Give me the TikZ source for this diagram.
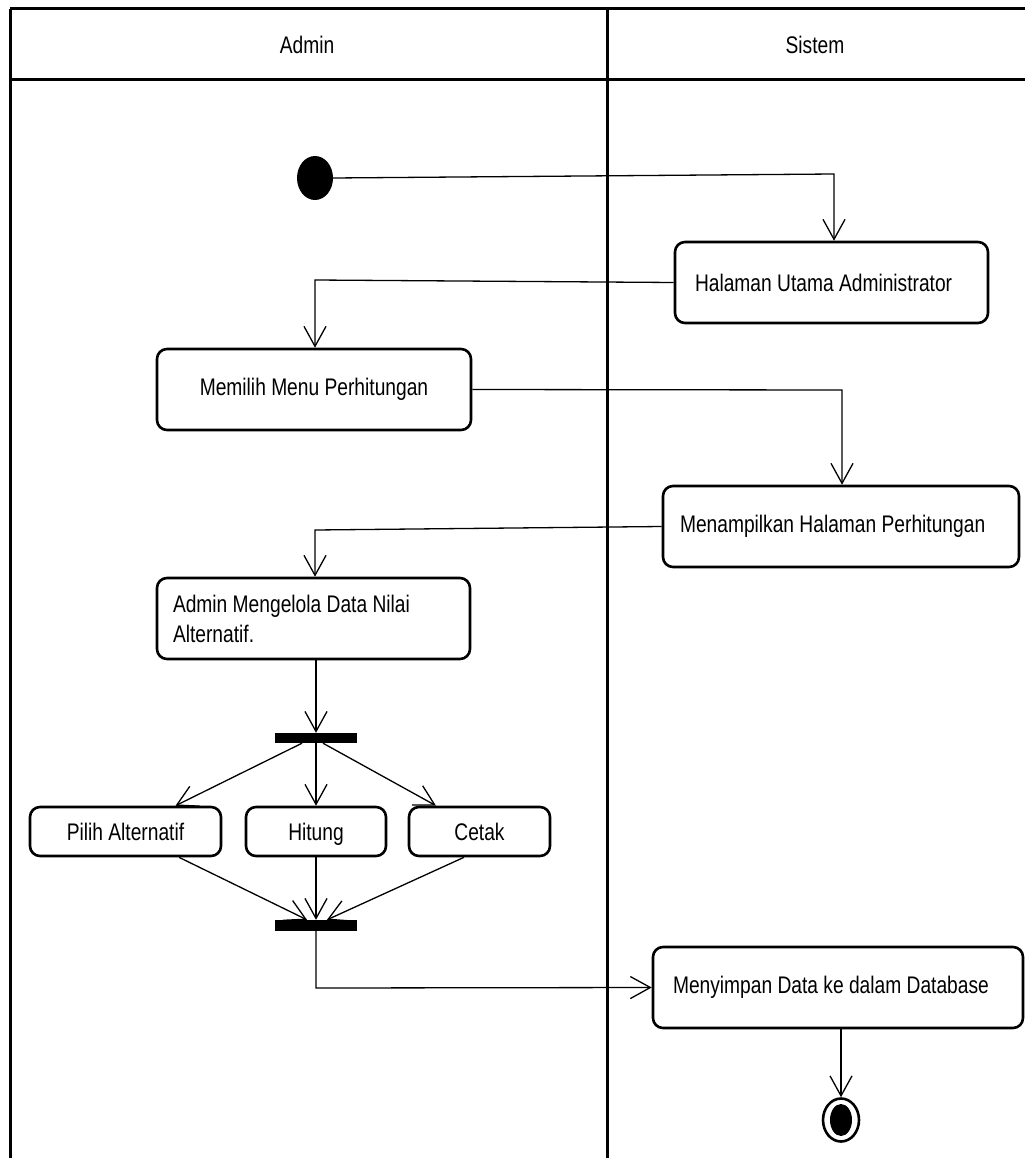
\documentclass[tikz,border=0pt]{standalone}
\usepackage{fontspec}
\setmainfont{Liberation Sans}[FakeStretch=0.8]
\usetikzlibrary{arrows.meta,shapes.geometric}
\begin{document}
\begin{tikzpicture}[x=1pt,y=-1pt,
  txt/.style={font=\fontsize{24}{30}\selectfont},
  act/.style={draw, line width=2.6pt, rounded corners=10pt, inner ysep=0pt, inner xsep=0pt,
              align=center, minimum height=81pt, txt},
  smallact/.style={act, minimum height=49pt, text height=17pt, text depth=0pt},
  bar/.style={fill=black, inner sep=0pt, minimum width=82pt, minimum height=10pt},
  flow/.style={line width=1.3pt},
  arr/.style={line width=1.3pt, -{Straight Barb[length=20pt,width=22pt,line width=1.3pt]}},
  lane/.style={line width=3pt}]
\useasboundingbox (0,0) rectangle (1025,1158);
\fill[white] (0,0) rectangle (1025,1158);

% swimlanes
\draw[lane] (10,9) -- (1025,9);
\draw[lane] (10,80) -- (1025,80);
\draw[lane] (10,9) -- (10,1158);
\draw[lane] (607,9) -- (607,1158);
\node[txt] (hA) at (307,45) {Admin};
\node[txt] (hS) at (815,45) {Sistem};

% nodes
\node[fill=black, ellipse, inner sep=0pt, minimum width=36pt, minimum height=44pt] (init) at (315,178) {};
\node[act, minimum width=313pt, text width=273pt, inner xsep=20pt, align=flush left] (hal) at (831.5,282.5) {Halaman Utama Administrator};
\node[act, minimum width=314pt] (mem) at (314,389.5) {Memilih Menu Perhitungan};
\node[act, minimum width=356pt, text width=322pt, inner xsep=17pt, align=flush left] (men) at (841,526.5) {Menampilkan Halaman Perhitungan};
\node[act, minimum width=313pt, text width=281pt, inner xsep=16pt, align=flush left] (adm) at (313.5,618.5) {Admin Mengelola Data Nilai\\Alternatif.};
\node[bar] (fork) at (316,738) {};
\node[smallact, minimum width=191pt] (pil) at (125.5,831.5) {Pilih Alternatif};
\node[smallact, minimum width=140pt] (hit) at (316,831.5) {Hitung};
\node[smallact, minimum width=141pt] (cet) at (479.5,831.5) {Cetak};
\node[bar, minimum height=11pt] (join) at (316,925.5) {};
\node[act, minimum width=370pt, text width=330pt, inner xsep=20pt, align=flush left] (sim) at (838,987.5) {Menyimpan Data ke dalam Database};
\node[draw, ellipse, line width=2.6pt, inner sep=0pt, minimum width=36pt, minimum height=43pt] (fin) at (841,1120) {};
\node[fill=black, ellipse, inner sep=0pt, minimum width=22pt, minimum height=32pt] (finin) at (fin) {};

% connectors
\coordinate (c1) at (834,174);
\draw[arr] (init.east) -- (c1) -- (c1 |- hal.north);
\coordinate (c2) at (315,280);
\draw[arr] (hal.west) -- (c2) -- (c2 |- mem.north);
\coordinate (c3) at (842,390);
\draw[arr] (mem.east) -- (c3) -- (c3 |- men.north);
\coordinate (c4) at (315,530);
\draw[arr] (men.west) -- (c4) -- (c4 |- adm.north);
\draw[arr] (adm.south -| fork.north) -- (fork.north);
\draw[arr] ([xshift=-14pt]fork.south) -- ([xshift=50pt]pil.north);
\draw[arr] (fork.south) -- (hit.north);
\draw[arr] ([xshift=7pt]fork.south) -- ([xshift=-43.5pt]cet.north);
\draw[arr] ([xshift=53.5pt]pil.south) -- ([xshift=-9pt]join.north);
\draw[arr] (hit.south) -- (join.north);
\draw[arr] ([xshift=-15.5pt]cet.south) -- ([xshift=11pt]join.north);
\coordinate (c5) at (316,988);
\draw[arr] (join.south) -- (c5) -- (sim.west);
\draw[arr] (fin.north |- sim.south) -- (fin.north);
\end{tikzpicture}
\end{document}
